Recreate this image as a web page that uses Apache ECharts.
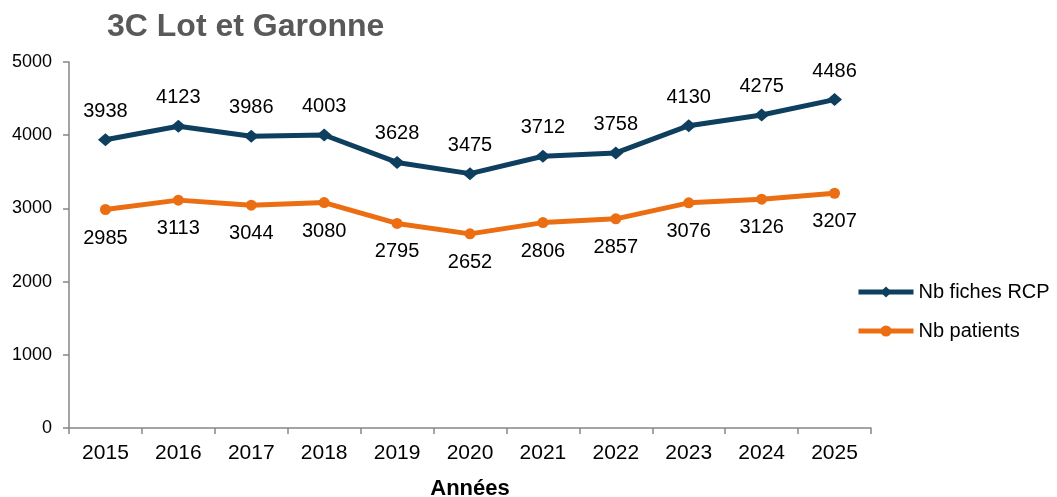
<!DOCTYPE html>
<html>
<head>
<meta charset="utf-8">
<script src="https://cdn.jsdelivr.net/npm/echarts@6/dist/echarts.min.js"></script>
<style>
  html, body { margin: 0; padding: 0; background: #fff; }
  #chart { width: 1057px; height: 497px; }
</style>
</head>
<body>
<div id="chart"></div>
<script>
// Years on the horizontal axis
const years = ['2015', '2016', '2017', '2018', '2019', '2020', '2021', '2022', '2023', '2024', '2025'];
// Number of RCP sheets per year
const fichesRCP = [3938, 4123, 3986, 4003, 3628, 3475, 3712, 3758, 4130, 4275, 4486];
// Number of patients per year
const patients = [2985, 3113, 3044, 3080, 2795, 2652, 2806, 2857, 3076, 3126, 3207];

const FONT = 'Liberation Sans, Arial, sans-serif';
const BLUE = '#0E3F5F';
const ORANGE = '#EB6F12';
const chart = echarts.init(document.getElementById('chart'));

chart.setOption({
  animation: false,
  backgroundColor: '#ffffff',
  title: {
    text: '3C Lot et Garonne',
    left: 107,
    top: 11,
    padding: 0,
    textStyle: { fontFamily: FONT, fontSize: 32, fontWeight: 'bold', color: '#595959' }
  },
  legend: {
    orient: 'vertical',
    left: 856,
    top: 282,
    padding: 0,
    itemGap: 19,
    itemWidth: 55,
    itemHeight: 14,
    lineStyle: { width: 5 },
    textStyle: { fontFamily: FONT, fontSize: 20, color: '#000' },
    data: ['Nb fiches RCP', 'Nb patients']
  },
  grid: { left: 69, right: 186, top: 62, bottom: 69, containLabel: false, outerBoundsMode: 'none' },
  xAxis: {
    type: 'category',
    data: years,
    boundaryGap: true,
    name: 'Années',
    nameLocation: 'middle',
    nameGap: 50,
    nameTextStyle: { fontFamily: FONT, fontSize: 22, fontWeight: 'bold', color: '#000' },
    axisLine: { lineStyle: { color: '#868686', width: 1.5 } },
    axisTick: { show: true, length: 6, lineStyle: { color: '#868686', width: 1.5 } },
    axisLabel: { fontFamily: FONT, fontSize: 21, color: '#000', margin: 15 }
  },
  yAxis: {
    type: 'value',
    min: 0,
    max: 5000,
    interval: 1000,
    axisLine: { show: true, lineStyle: { color: '#868686', width: 1.5 } },
    axisTick: { show: true, length: 6, lineStyle: { color: '#868686', width: 1.5 } },
    splitLine: { show: false },
    axisLabel: { fontFamily: FONT, fontSize: 18, color: '#000', margin: 17, formatter: v => String(v) }
  },
  series: [
    {
      name: 'Nb fiches RCP',
      type: 'line',
      data: fichesRCP,
      symbol: 'diamond',
      symbolSize: [15, 13],
      lineStyle: { width: 5, color: BLUE },
      itemStyle: { color: BLUE },
      label: {
        show: true,
        position: 'top',
        distance: 12,
        fontFamily: FONT,
        fontSize: 20,
        color: '#000'
      }
    },
    {
      name: 'Nb patients',
      type: 'line',
      data: patients,
      symbol: 'circle',
      symbolSize: 11,
      lineStyle: { width: 5, color: ORANGE },
      itemStyle: { color: ORANGE },
      label: {
        show: true,
        position: 'bottom',
        distance: 13,
        fontFamily: FONT,
        fontSize: 20,
        color: '#000'
      }
    }
  ]
});
</script>
</body>
</html>
